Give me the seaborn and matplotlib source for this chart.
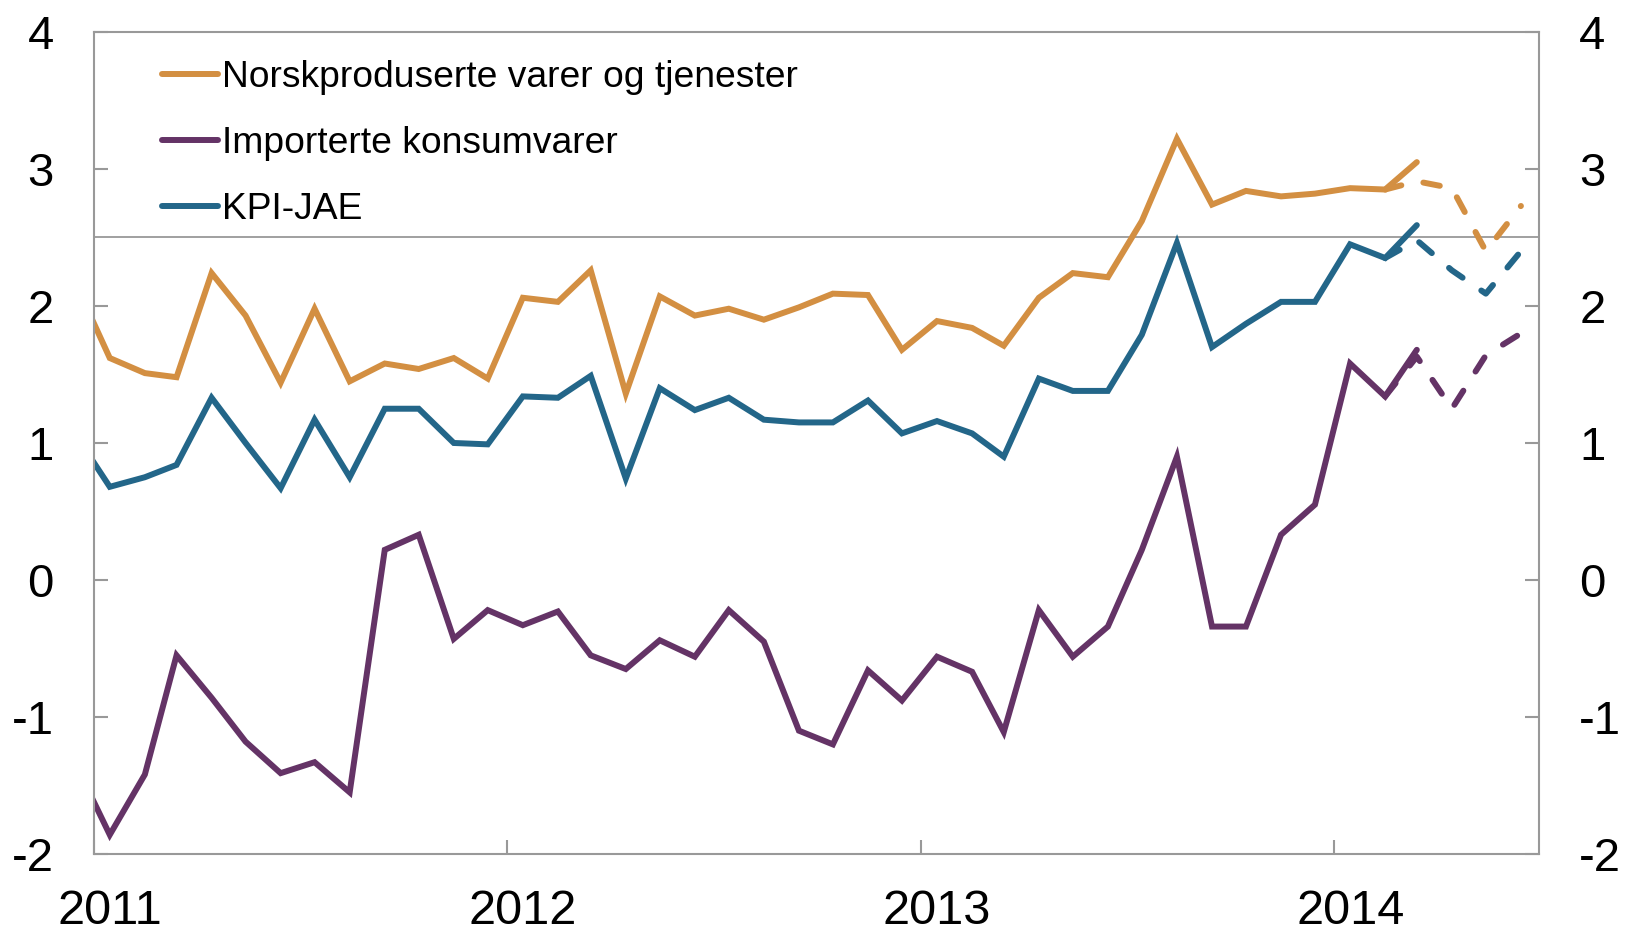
import matplotlib
matplotlib.use('Agg')
import matplotlib.pyplot as plt
import matplotlib.dates as mdates
import matplotlib.transforms as mtransforms
import pandas as pd
import seaborn as sns

# Monthly values Dec 2010 - Mar 2014 (Dec 2010 is only seen clipped at the left edge)
norsk = [2.18, 1.62, 1.51, 1.48, 2.24, 1.93, 1.44, 1.98, 1.45, 1.58, 1.54, 1.62, 1.47,
         2.06, 2.03, 2.26, 1.36, 2.07, 1.93, 1.98, 1.90, 1.99, 2.09, 2.08, 1.68,
         1.89, 1.84, 1.71, 2.06, 2.24, 2.21, 2.62, 3.22, 2.74, 2.84, 2.80, 2.82,
         2.86, 2.85, 3.05]
kpi_jae = [1.07, 0.68, 0.75, 0.84, 1.33, 1.00, 0.67, 1.17, 0.75, 1.25, 1.25, 1.00, 0.99,
           1.34, 1.33, 1.49, 0.74, 1.40, 1.24, 1.33, 1.17, 1.15, 1.15, 1.31, 1.07,
           1.16, 1.07, 0.90, 1.47, 1.38, 1.38, 1.79, 2.46, 1.70, 1.87, 2.03, 2.03,
           2.45, 2.35, 2.59]
import_kons = [-1.33, -1.86, -1.42, -0.55, -0.86, -1.18, -1.41, -1.33, -1.55, 0.22, 0.33, -0.43, -0.22,
               -0.33, -0.23, -0.55, -0.65, -0.44, -0.56, -0.22, -0.45, -1.10, -1.20, -0.66, -0.88,
               -0.56, -0.67, -1.11, -0.22, -0.56, -0.34, 0.22, 0.90, -0.34, -0.34, 0.33, 0.55,
               1.58, 1.34, 1.68]

# Projections Feb 2014 - Jun 2014 (dashed)
norsk_proj = [2.85, 2.91, 2.86, 2.40, 2.73]
kpi_jae_proj = [2.35, 2.48, 2.26, 2.09, 2.40]
import_proj = [1.34, 1.63, 1.25, 1.64, 1.80]

labels = ['Norskproduserte varer og tjenester', 'Importerte konsumvarer', 'KPI-JAE']
colors = ['#d38f42', '#643366', '#236689']
target = 2.5

dates = pd.date_range('2010-12-01', '2014-03-01', freq='MS') + pd.Timedelta(days=14)
proj_dates = pd.date_range('2014-02-01', '2014-06-01', freq='MS') + pd.Timedelta(days=14)

sns.set_style('white')
plt.rcParams['font.family'] = ['Liberation Sans', 'DejaVu Sans']
plt.rcParams['axes.unicode_minus'] = False
plt.rcParams['text.color'] = 'black'

fig = plt.figure(figsize=(16.25, 9.32), dpi=100)
ax = fig.add_axes([0.0578, 0.0837, 0.8893, 0.882])

grey = '#999999'
ax.axhline(target, color=grey, linewidth=1.3, zorder=1)

lw = 4.3
for vals, proj, lab, col in zip([norsk, import_kons, kpi_jae],
                                [norsk_proj, import_proj, kpi_jae_proj], labels, colors):
    sns.lineplot(x=dates, y=vals, color=col, linewidth=lw, label=lab, ax=ax,
                 solid_joinstyle='miter', solid_capstyle='round')
    sns.lineplot(x=proj_dates, y=proj, color=col, linewidth=lw, ax=ax, legend=False,
                 dashes=False, linestyle=(0, (2.8, 3.8)), dash_capstyle='round')

ax.set_xlim(pd.Timestamp('2011-01-01'), pd.Timestamp('2014-07-01'))
ax.set_ylim(-2, 4)
ax.set_yticks(range(-2, 5))
ax.xaxis.set_major_locator(mdates.YearLocator())
ax.xaxis.set_major_formatter(mdates.DateFormatter('%Y'))
ax.set_xlabel('')
ax.set_ylabel('')

for s in ax.spines.values():
    s.set_color(grey)
    s.set_linewidth(1.5)
    s.set_visible(True)

ax.tick_params(axis='y', which='both', direction='in', length=10, width=1.5, color=grey,
               left=True, right=True, labelleft=True, labelright=True,
               labelsize=34, pad=29, labelcolor='black')
ax.tick_params(axis='x', direction='in', length=10, width=1.5, color=grey,
               bottom=True, labelsize=35, pad=25, labelcolor='black')

offset = mtransforms.ScaledTranslation(0.16, 0, fig.dpi_scale_trans)
for t in ax.get_xticklabels():
    t.set_transform(t.get_transform() + offset)

ax.legend(loc='upper left', bbox_to_anchor=(0.047, 0.966), frameon=False,
          fontsize=26.8, handlelength=1.5, handletextpad=0.12, labelspacing=0.84,
          borderpad=0, borderaxespad=0)

fig.savefig('out.png', dpi=100)
